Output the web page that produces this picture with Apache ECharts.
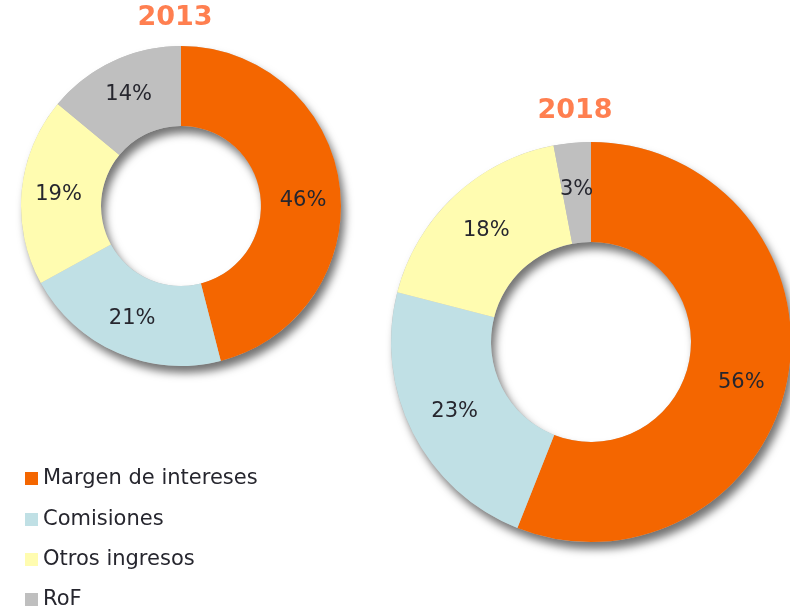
<!DOCTYPE html>
<html>
<head>
<meta charset="utf-8">
<script src="https://cdn.jsdelivr.net/npm/echarts@6/dist/echarts.min.js"></script>
<style>
html,body{margin:0;padding:0;background:#fff;}
#chart{width:790px;height:609px;}
</style>
</head>
<body>
<div id="chart"></div>
<script>
const categories = ['Margen de intereses', 'Comisiones', 'Otros ingresos', 'RoF'];
const colors = ['#F46600', '#C0E0E5', '#FFFCB0', '#BFBFBF'];
const years = ['2013', '2018'];
const values2013 = [46, 21, 19, 14];
const values2018 = [56, 23, 18, 3];

const chart = echarts.init(document.getElementById('chart'), null, {renderer: 'canvas'});

function ring(name, values, center, radius, firstShift) {
  return {
    name: name,
    type: 'pie',
    center: center,
    radius: radius,
    startAngle: 90,
    clockwise: true,
    avoidLabelOverlap: false,
    z: 3,
    itemStyle: {borderWidth: 0},
    label: {
      show: true,
      position: 'inside',
      formatter: '{c}%',
      color: '#26262e',
      fontFamily: 'DejaVu Sans',
      fontSize: 21
    },
    labelLine: {show: false},
    emphasis: {disabled: true},
    data: categories.map((c, i) => {
      const item = {name: c, value: values[i], itemStyle: {color: colors[i]}};
      if (i === 0) item.label = {formatter: '\n{c}%', lineHeight: firstShift * 2};
      return item;
    })
  };
}

function shadowRing(center, radius) {
  return {
    type: 'pie',
    center: center,
    radius: radius,
    silent: true,
    z: 1,
    label: {show: false},
    labelLine: {show: false},
    itemStyle: {
      color: '#bbbbbb',
      borderWidth: 0,
      shadowBlur: 9,
      shadowOffsetX: 4,
      shadowOffsetY: 7,
      shadowColor: 'rgba(0,0,0,0.55)'
    },
    data: [{name: '', value: 1}]
  };
}

const c2013 = [181, 206], r2013 = [80, 160];
const c2018 = [591, 342], r2018 = [100, 200];
const legendTops = [468, 509, 549, 589];

chart.setOption({
  animation: false,
  backgroundColor: '#ffffff',
  color: colors,
  legend: categories.map((c, i) => ({
    data: [c],
    orient: 'vertical',
    left: 25,
    top: legendTops[i],
    padding: 0,
    icon: 'rect',
    itemWidth: 13,
    itemHeight: 13,
    textStyle: {
      color: '#26262e',
      fontFamily: 'DejaVu Sans',
      fontSize: 21
    }
  })),
  graphic: [
    {type: 'text', x: 175, y: 18, style: {text: years[0], align: 'center', verticalAlign: 'middle', fill: '#FF7F50', font: 'bold 27px "DejaVu Sans"'}},
    {type: 'text', x: 575, y: 111, style: {text: years[1], align: 'center', verticalAlign: 'middle', fill: '#FF7F50', font: 'bold 27px "DejaVu Sans"'}}
  ],
  series: [
    shadowRing(c2013, r2013),
    shadowRing(c2018, r2018),
    ring(years[0], values2013, c2013, r2013, 10),
    ring(years[1], values2018, c2018, r2018, 12)
  ]
});
</script>
</body>
</html>
